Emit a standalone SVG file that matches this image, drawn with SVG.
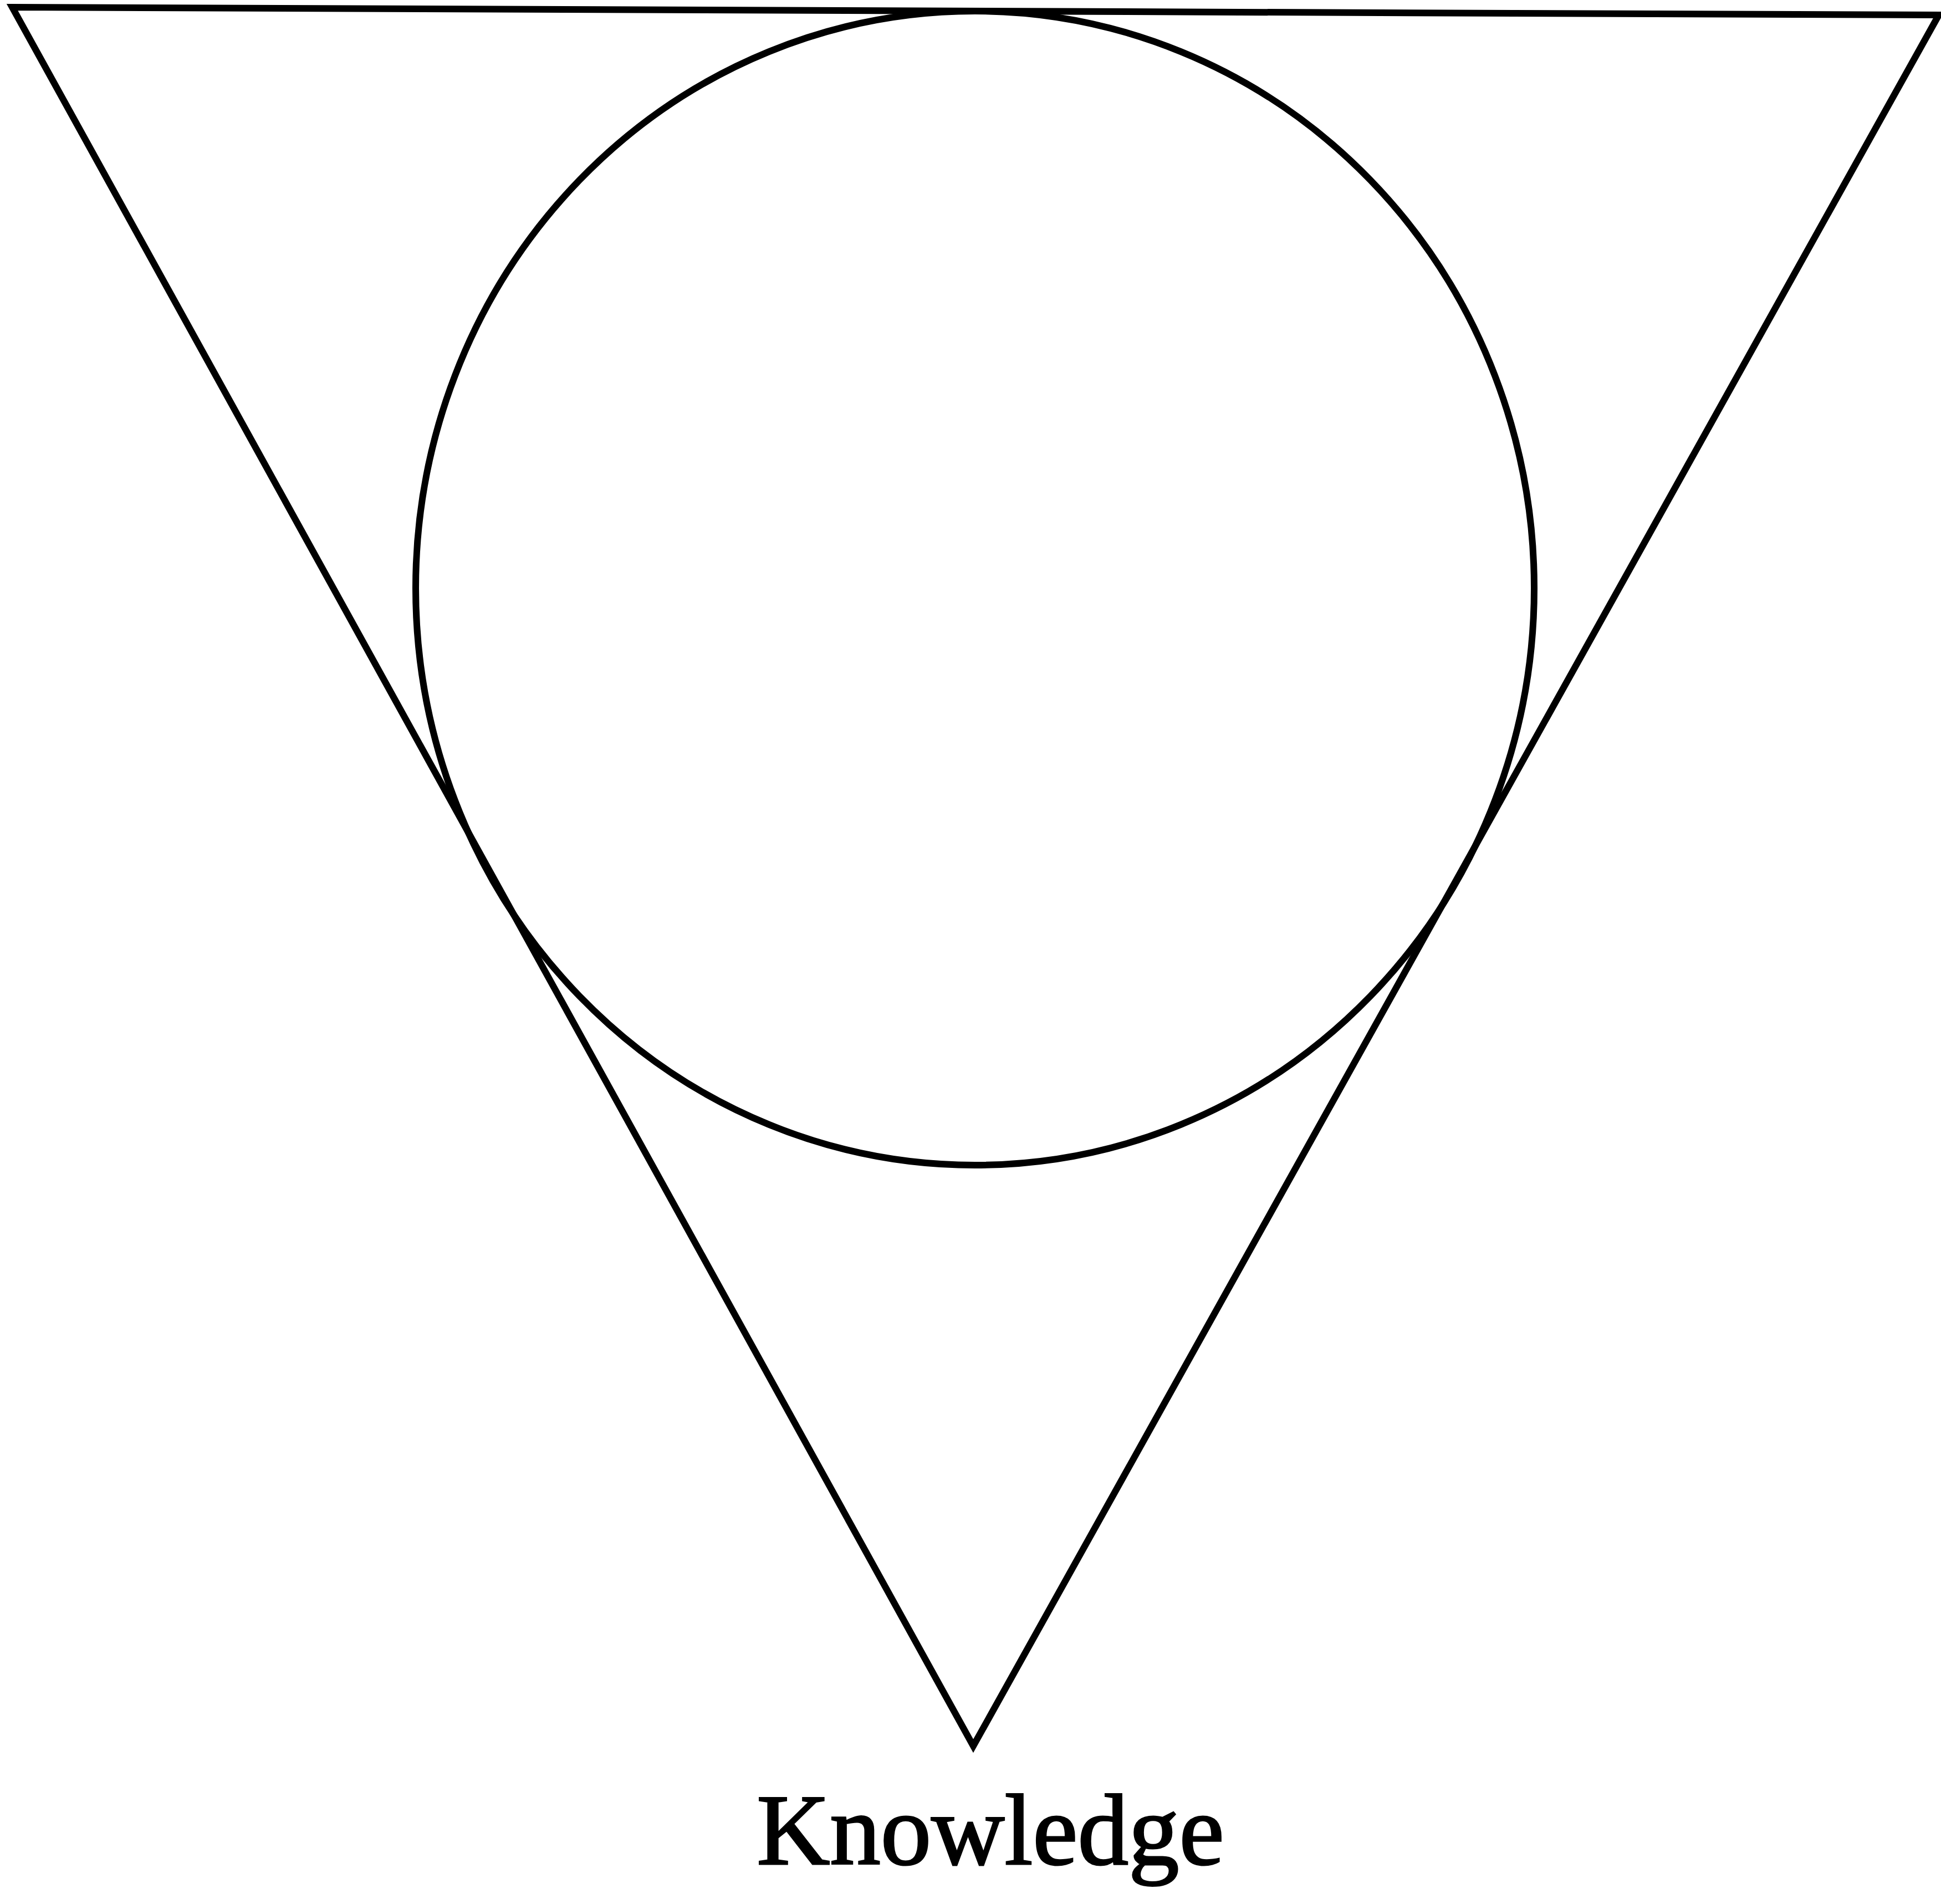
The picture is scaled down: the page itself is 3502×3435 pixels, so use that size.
<svg xmlns="http://www.w3.org/2000/svg" width="3502" height="3435" viewBox="0 0 3502 3435">
<style>
.shape{fill:none;stroke:#000;stroke-width:12;stroke-linejoin:miter}
.label{font-family:"Liberation Serif","Times New Roman",serif;font-size:183px;fill:#000;stroke:#000;stroke-width:3;text-anchor:middle}
</style>
<rect width="3502" height="3435" fill="#fff"/>
<g id="triangle">
<polygon class="shape" points="22,13 3498,27 1756,3150"/>
</g>
<g id="circle">
<ellipse class="shape" cx="1759" cy="1061" rx="1009" ry="1041"/>
</g>
<g id="label-knowledge">
<text class="label" x="1787" y="3363">Knowledge</text>
</g>
<g id="connectors"></g>
</svg>
